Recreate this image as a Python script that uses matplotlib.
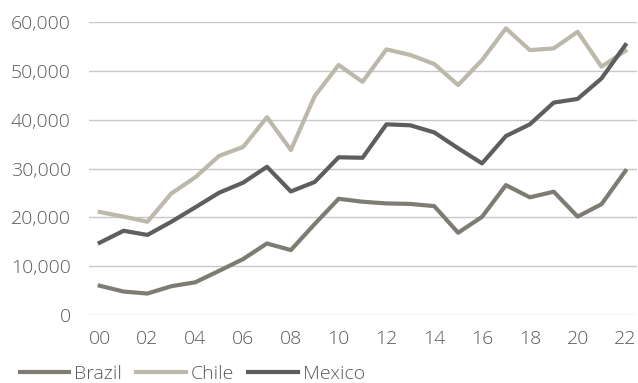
import matplotlib
matplotlib.use("Agg")
import matplotlib.pyplot as plt
from matplotlib.ticker import FuncFormatter

years = list(range(0, 23))
xlabels = ["00", "02", "04", "06", "08", "10", "12", "14", "16", "18", "20", "22"]
brazil = [6000, 4800, 4400, 5900, 6700, 9050, 11450, 14650, 13300, 18650, 23800,
          23200, 22850, 22750, 22300, 16850, 20100, 26600, 24100, 25250, 20150, 22700, 29500]
chile = [21100, 20150, 19100, 24900, 28200, 32600, 34400, 40500, 33800, 44850, 51200,
         47750, 54400, 53250, 51400, 47100, 52200, 58700, 54250, 54600, 58000, 50850, 54100]
mexico = [14800, 17250, 16400, 19100, 22050, 25050, 27100, 30350, 25300, 27250, 32300,
          32200, 39050, 38850, 37400, 34150, 31050, 36650, 39050, 43500, 44250, 48450, 55300]

plt.rcParams['font.family'] = ['Open Sans', 'DejaVu Sans']
plt.rcParams['font.weight'] = 300

fig = plt.figure(figsize=(6.38, 3.83), dpi=100)
ax = fig.add_axes([0.139, 0.1775, 0.86, 0.765])

ax.plot(years, brazil, color="#7e7b72", lw=3, label="Brazil")
ax.plot(years, chile, color="#bcb8aa", lw=3, label="Chile")
ax.plot(years, mexico, color="#5e5e61", lw=3, label="Mexico")

ax.set_ylim(0, 60000)
ax.set_yticks(range(0, 60001, 10000))
ax.yaxis.set_major_formatter(FuncFormatter(lambda v, p: f"{int(v):,}"))
ax.set_xlim(-0.46, 22.5)
ax.set_xticks(range(0, 23, 2))
ax.set_xticklabels(xlabels)
ax.grid(axis="y", color="#c8c8c8", lw=1)
ax.set_axisbelow(True)
for s in ax.spines.values():
    s.set_visible(False)
ax.tick_params(length=0, labelsize=14, colors="#5a5a5a")
ax.tick_params(axis="x", pad=11)
ax.tick_params(axis="y", pad=13)

leg = ax.legend(loc="center left", bbox_to_anchor=(-0.126, -0.2), ncol=3, frameon=False,
                fontsize=14, handlelength=2.55, handletextpad=0.26, columnspacing=0.72,
                borderaxespad=0, borderpad=0)
for t in leg.get_texts():
    t.set_color("#5a5a5a")

fig.savefig("out.png", dpi=100)
